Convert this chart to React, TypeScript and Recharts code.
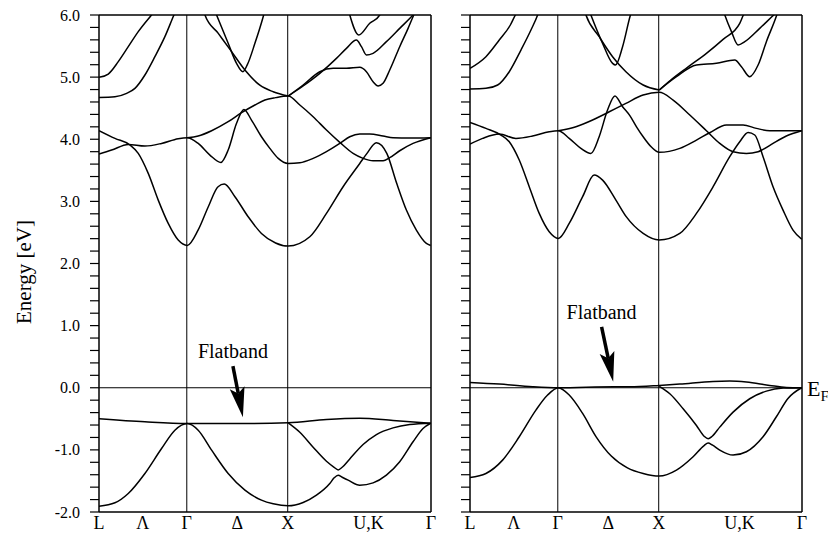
import { Line, LineChart, ReferenceLine, XAxis, YAxis } from "recharts";

document.body.style.margin = "0";

type Pt = [number, number];

const SERIF = '"Liberation Serif", "Times New Roman", "DejaVu Serif", serif';

// k path L–Γ–X–U,K–Γ (units of 2π/a); energies in eV relative to E_F
const kTicks = [0, 0.435, 0.87, 1.37, 1.87, 2.67, 3.29];
const kLabels = ["L", "Λ", "Γ", "Δ", "X", "U,K", "Γ"];
const kMax = 3.29;
const yMajor = [-2, -1, 0, 1, 2, 3, 4, 5, 6];
const yTicks = yMajor.flatMap((v) =>
  v < 6 ? [0, 0.2, 0.4, 0.6, 0.8].map((d) => +(v + d).toFixed(1)) : [v]
);

// ---- left panel bands ----
const lC1: Pt[] = [[0,4.14],[0.158,4.014],[0.307,3.907],[0.389,3.772],[0.488,3.45],[0.587,3.02],[0.686,2.645],[0.785,2.377],[0.875,2.29],[0.983,2.54],[1.083,2.914],[1.18,3.236],[1.241,3.278],[1.347,3.075],[1.478,2.753],[1.61,2.484],[1.75,2.33],[1.875,2.28],[2.089,2.43],[2.254,2.806],[2.419,3.236],[2.584,3.61],[2.65,3.76],[2.749,3.944],[2.852,3.772],[2.95,3.29],[3.046,2.86],[3.145,2.538],[3.244,2.323],[3.287,2.29]];
const lC2: Pt[] = [[0,3.762],[0.125,3.826],[0.29,3.917],[0.455,3.89],[0.62,3.933],[0.785,4.009],[0.875,4.025],[0.983,3.933],[1.099,3.745],[1.208,3.627],[1.28,3.826],[1.363,4.256],[1.436,4.48],[1.511,4.309],[1.61,4.04],[1.693,3.853],[1.776,3.692],[1.875,3.611],[1.99,3.622],[2.122,3.692],[2.254,3.8],[2.386,3.933],[2.485,4.041],[2.584,4.084],[2.683,4.084],[2.815,4.052],[2.914,4.025],[3.079,4.019],[3.287,4.025]];
const lC3: Pt[] = [[0.875,4.025],[0.983,4.052],[1.116,4.137],[1.28,4.282],[1.413,4.427],[1.545,4.551],[1.644,4.631],[1.75,4.67],[1.875,4.696],[1.99,4.551],[2.122,4.363],[2.254,4.148],[2.386,3.95],[2.518,3.772],[2.617,3.692],[2.716,3.654],[2.815,3.654],[2.881,3.703],[2.98,3.815],[3.112,3.933],[3.287,4.025]];
const lU1: Pt[] = [[0,4.674],[0.158,4.685],[0.274,4.739],[0.356,4.819],[0.455,5.034],[0.554,5.329],[0.653,5.651],[0.743,6.0],[0.8,6.2]];
const lU2: Pt[] = [[0,4.996],[0.092,5.05],[0.191,5.249],[0.29,5.49],[0.389,5.732],[0.52,6.0],[0.57,6.1]];
const lU3: Pt[] = [[1.02,6.15],[1.05,6.0],[1.182,5.705],[1.314,5.41],[1.446,5.114],[1.594,4.87],[1.726,4.765],[1.875,4.696]];
const lU4: Pt[] = [[1.14,6.1],[1.165,6.0],[1.28,5.544],[1.363,5.222],[1.426,5.087],[1.47,5.2],[1.545,5.544],[1.627,5.973],[1.64,6.05]];
const lUa: Pt[] = [[1.875,4.696],[2.023,4.873],[2.188,5.087],[2.32,5.141],[2.452,5.141],[2.584,5.157],[2.65,5.087],[2.716,4.926],[2.766,4.857],[2.815,4.9],[2.881,5.114],[2.98,5.49],[3.063,5.785],[3.119,6.0],[3.15,6.12]];
const lUb: Pt[] = [[1.875,4.696],[2.023,4.857],[2.188,5.06],[2.353,5.302],[2.452,5.463],[2.551,5.597],[2.601,5.49],[2.65,5.356],[2.716,5.383],[2.848,5.571],[2.98,5.785],[3.112,6.0],[3.14,6.05]];
const lUc: Pt[] = [[2.46,6.15],[2.485,6.0],[2.574,5.678],[2.683,5.866],[2.782,6.0],[2.81,6.1]];
const lV1: Pt[] = [[0,-0.5],[0.455,-0.549],[0.875,-0.576],[1.429,-0.576],[1.875,-0.565],[2.254,-0.51],[2.584,-0.49],[2.914,-0.527],[3.287,-0.571]];
const lV2: Pt[] = [[1.875,-0.565],[1.99,-0.716],[2.122,-0.957],[2.254,-1.183],[2.33,-1.28],[2.37,-1.322],[2.41,-1.28],[2.485,-1.145],[2.617,-0.914],[2.749,-0.753],[2.914,-0.646],[3.079,-0.592],[3.287,-0.571]];
const lV3: Pt[] = [[0,-1.906],[0.158,-1.852],[0.29,-1.702],[0.455,-1.38],[0.62,-0.978],[0.752,-0.683],[0.875,-0.576],[0.983,-0.683],[1.116,-1.005],[1.28,-1.38],[1.446,-1.648],[1.61,-1.809],[1.726,-1.868],[1.875,-1.901],[2.023,-1.847],[2.155,-1.729],[2.287,-1.541],[2.33,-1.45],[2.37,-1.407],[2.41,-1.44],[2.469,-1.487],[2.584,-1.568],[2.716,-1.531],[2.848,-1.407],[2.98,-1.192],[3.112,-0.87],[3.211,-0.655],[3.287,-0.571]];

// ---- right panel bands ----
const rC1: Pt[] = [[0,4.272],[0.158,4.175],[0.307,4.068],[0.389,3.96],[0.488,3.665],[0.587,3.236],[0.686,2.806],[0.785,2.511],[0.875,2.404],[0.983,2.645],[1.116,3.075],[1.231,3.423],[1.314,3.342],[1.446,3.021],[1.55,2.75],[1.716,2.484],[1.875,2.377],[2.079,2.484],[2.244,2.806],[2.409,3.236],[2.574,3.719],[2.673,3.96],[2.756,4.11],[2.822,4.068],[2.904,3.719],[3.003,3.236],[3.102,2.86],[3.201,2.538],[3.287,2.39]];
const rC2: Pt[] = [[0,3.923],[0.125,4.014],[0.29,4.084],[0.455,4.014],[0.62,4.052],[0.785,4.121],[0.875,4.137],[0.983,4.014],[1.099,3.853],[1.198,3.772],[1.28,4.041],[1.363,4.47],[1.436,4.696],[1.512,4.524],[1.584,4.38],[1.65,4.2],[1.716,4.04],[1.8,3.87],[1.875,3.789],[2.079,3.853],[2.244,3.987],[2.376,4.105],[2.541,4.229],[2.706,4.229],[2.838,4.175],[2.97,4.137],[3.287,4.137]];
const rC3: Pt[] = [[0.875,4.137],[1.05,4.202],[1.215,4.309],[1.38,4.443],[1.545,4.578],[1.716,4.712],[1.875,4.755],[2.013,4.631],[2.178,4.39],[2.343,4.137],[2.475,3.933],[2.607,3.799],[2.739,3.772],[2.855,3.799],[2.904,3.837],[3.003,3.933],[3.135,4.052],[3.287,4.137]];
const rU1: Pt[] = [[0,4.808],[0.158,4.819],[0.274,4.873],[0.389,5.087],[0.505,5.436],[0.604,5.758],[0.67,6.0],[0.71,6.2]];
const rU2: Pt[] = [[0,5.141],[0.158,5.329],[0.29,5.597],[0.4,5.839],[0.45,6.0],[0.49,6.1]];
const rU3: Pt[] = [[1.12,6.15],[1.149,6.0],[1.28,5.651],[1.413,5.329],[1.545,5.087],[1.716,4.873],[1.875,4.792]];
const rU4: Pt[] = [[1.17,6.12],[1.198,6.0],[1.314,5.544],[1.413,5.222],[1.442,5.195],[1.512,5.49],[1.59,6.0],[1.61,6.1]];
const rUa: Pt[] = [[1.875,4.792],[2.046,5.007],[2.244,5.195],[2.442,5.222],[2.624,5.275],[2.69,5.168],[2.772,5.007],[2.855,5.195],[2.937,5.571],[3.04,6.0],[3.07,6.15]];
const rUb: Pt[] = [[1.875,4.792],[1.99,4.953],[2.155,5.157],[2.343,5.383],[2.508,5.608],[2.673,5.866],[2.71,6.0],[2.75,6.1]];
const rUc: Pt[] = [[2.5,6.12],[2.525,6.0],[2.591,5.732],[2.657,5.517],[2.723,5.571],[2.871,5.785],[3.01,6.0],[3.05,6.06]];
const rV1: Pt[] = [[0,0.086],[0.29,0.059],[0.62,0.016],[0.875,0],[1.429,0.016],[1.584,0.016],[1.875,0.037],[2.079,0.059],[2.409,0.102],[2.574,0.107],[2.739,0.091],[2.97,0.037],[3.135,0.005],[3.287,0]];
const rV2: Pt[] = [[1.875,0.021],[1.98,-0.097],[2.112,-0.338],[2.244,-0.607],[2.32,-0.78],[2.36,-0.821],[2.4,-0.78],[2.475,-0.634],[2.607,-0.392],[2.772,-0.177],[2.937,-0.054],[3.102,-0.006],[3.287,0]];
const rV3: Pt[] = [[0,-1.444],[0.158,-1.38],[0.323,-1.165],[0.488,-0.789],[0.653,-0.36],[0.769,-0.118],[0.875,0],[0.983,-0.118],[1.116,-0.413],[1.25,-0.79],[1.4,-1.1],[1.56,-1.29],[1.716,-1.38],[1.875,-1.422],[2.046,-1.325],[2.211,-1.11],[2.32,-0.93],[2.36,-0.89],[2.4,-0.92],[2.475,-1.003],[2.607,-1.084],[2.739,-1.03],[2.904,-0.789],[3.036,-0.467],[3.151,-0.172],[3.287,0]];

const leftBands = [lC1, lC2, lC3, lU1, lU2, lU3, lU4, lUa, lUb, lUc, lV1, lV2, lV3];
const rightBands = [rC1, rC2, rC3, rU1, rU2, rU3, rU4, rUa, rUb, rUc, rV1, rV2, rV3];

// "Flatband" arrows: tail -> tip, in (k, E)
const leftArrow = [{ x: 1.327, y: 0.348 }, { x: 1.426, y: -0.473 }];
const rightArrow = [{ x: 1.304, y: 0.98 }, { x: 1.419, y: 0.095 }];

const toRows = (pts: Pt[]) => pts.map(([k, e]) => ({ k, e }));

function YTick(props: any) {
  const { x, y, payload, showLabel } = props;
  if (!showLabel || !Number.isInteger(payload.value)) return <g />;
  return (
    <text x={x} y={y} dy="0.35em" textAnchor="end" fontSize={16} fontFamily={SERIF} fill="#000">
      {payload.value.toFixed(1)}
    </text>
  );
}

function XTick(props: any) {
  const { x, y, payload } = props;
  const i = kTicks.indexOf(payload.value);
  return (
    <text x={x} y={y + 17} textAnchor="middle" fontSize={18} fontFamily={SERIF} fill="#000">
      {kLabels[i]}
    </text>
  );
}

const arrowShape = (p: any) => {
  const { x1, y1, x2, y2 } = p;
  const dx = x2 - x1;
  const dy = y2 - y1;
  const len = Math.hypot(dx, dy) || 1;
  const ux = dx / len;
  const uy = dy / len;
  const head = 30;
  const half = 7.5;
  const bx = x2 - ux * head;
  const by = y2 - uy * head;
  const nx = -uy;
  const ny = ux;
  const pts = [
    [x2, y2],
    [bx + nx * half, by + ny * half],
    [bx + ux * 6, by + uy * 6],
    [bx - nx * half, by - ny * half],
  ]
    .map((q) => q.join(","))
    .join(" ");
  return (
    <g>
      <text x={x1} y={y1 - 8} textAnchor="middle" fontSize={20} fontFamily={SERIF} fill="#000">
        Flatband
      </text>
      <line x1={x1} y1={y1} x2={bx + ux * 6} y2={by + uy * 6} stroke="#000" strokeWidth={3.5} />
      <polygon points={pts} fill="#000" />
    </g>
  );
};

const efLabel = (p: any) => {
  const vb = p.viewBox;
  return (
    <text x={vb.x + vb.width + 5} y={vb.y + 8} fontSize={22} fontFamily={SERIF} fill="#000">
      E
      <tspan fontSize={15} dy={5}>
        F
      </tspan>
    </text>
  );
};

interface PanelProps {
  bands: Pt[][];
  width: number;
  yAxisWidth: number;
  rightMargin: number;
  showLabels: boolean;
  arrow: { x: number; y: number }[];
  ef?: boolean;
}

function Panel({ bands, width, yAxisWidth, rightMargin, showLabels, arrow, ef }: PanelProps) {
  return (
    <LineChart width={width} height={534} margin={{ top: 15, right: rightMargin, bottom: 0, left: 0 }}>
      <XAxis
        type="number"
        dataKey="k"
        domain={[0, kMax]}
        ticks={kTicks}
        interval={0}
        allowDataOverflow
        tick={<XTick />}
        tickLine={false}
        tickSize={0}
        tickMargin={0}
        height={22}
        axisLine={{ stroke: "#000", strokeWidth: 1.5 }}
      />
      <YAxis
        type="number"
        domain={[-2, 6]}
        ticks={yTicks}
        interval={0}
        allowDataOverflow
        width={yAxisWidth}
        tick={<YTick showLabel={showLabels} />}
        tickSize={9}
        tickMargin={10}
        tickLine={{ stroke: "#000", strokeWidth: 1.2 }}
        axisLine={{ stroke: "#000", strokeWidth: 1.5 }}
      />
      <ReferenceLine y={6} stroke="#000" strokeWidth={1.5} />
      <ReferenceLine x={kMax} stroke="#000" strokeWidth={1.5} />
      <ReferenceLine x={kTicks[2]} stroke="#000" strokeWidth={1} />
      <ReferenceLine x={kTicks[4]} stroke="#000" strokeWidth={1} />
      <ReferenceLine y={0} stroke="#000" strokeWidth={1.2} label={ef ? efLabel : undefined} />
      {bands.map((b, i) => (
        <Line
          key={i}
          data={toRows(b)}
          dataKey="e"
          type="monotone"
          stroke="#000"
          strokeWidth={1.5}
          dot={false}
          activeDot={false}
          isAnimationActive={false}
        />
      ))}
      <ReferenceLine segment={arrow} shape={arrowShape} />
    </LineChart>
  );
}

export default function App() {
  return (
    <div style={{ position: "relative", width: 828, height: 534, background: "#fff", fontFamily: SERIF }}>
      <div style={{ position: "absolute", left: 0, top: 0 }}>
        <Panel bands={leftBands} width={440} yAxisWidth={99} rightMargin={9} showLabels arrow={leftArrow} />
      </div>
      <div style={{ position: "absolute", left: 440, top: 0 }}>
        <Panel bands={rightBands} width={388} yAxisWidth={30} rightMargin={26} showLabels={false} arrow={rightArrow} ef />
      </div>
      <div
        style={{
          position: "absolute",
          left: 24,
          top: 272,
          transform: "translate(-50%, -50%) rotate(-90deg)",
          fontSize: 21,
          whiteSpace: "nowrap",
          color: "#000",
        }}
      >
        Energy [eV]
      </div>
    </div>
  );
}
